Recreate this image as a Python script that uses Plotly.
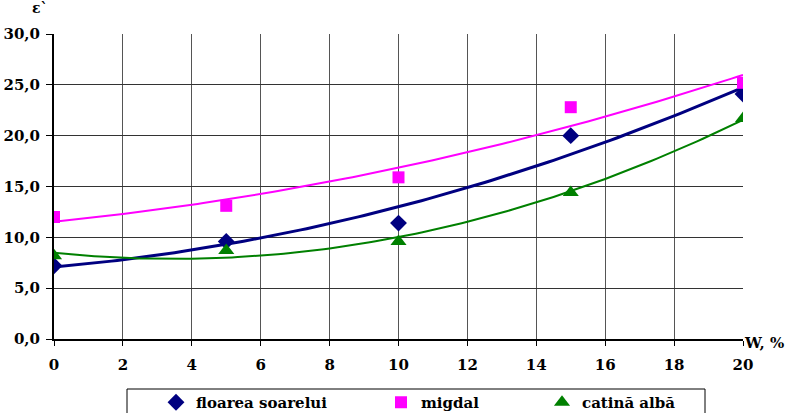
import numpy as np
import plotly.graph_objects as go

# ---- data ----
x_w = [0, 5, 10, 15, 20]
floarea_soarelui = [7.2, 9.6, 11.4, 20.0, 24.1]
migdal = [12.0, 13.1, 15.9, 22.8, 25.2]
catina_alba = [8.2, 8.7, 9.6, 14.4, 21.7]

series_names = ["floarea soarelui", "migdal", "catină albă"]
x_ticks = [0, 2, 4, 6, 8, 10, 12, 14, 16, 18, 20]
y_ticks = [0, 5, 10, 15, 20, 25, 30]
y_ticklabels = ["0,0", "5,0", "10,0", "15,0", "20,0", "25,0", "30,0"]

colors = ["#000080", "#FF00FF", "#008000"]
symbols = ["diamond", "square", "triangle-up"]
sizes = [13, 12, 14]
line_widths = [3, 2, 2]

FONT = "DejaVu Serif"

fig = go.Figure()
xs = np.linspace(0, 20, 121)
for i, ys in enumerate([floarea_soarelui, migdal, catina_alba]):
    coef = np.polyfit(x_w, ys, 2)
    fig.add_trace(go.Scatter(x=xs, y=np.polyval(coef, xs), mode="lines",
                             line=dict(color=colors[i], width=line_widths[i]),
                             showlegend=False, hoverinfo="skip"))
legend_ids = ["legend", "legend2", "legend3"]
for i, ys in enumerate([floarea_soarelui, migdal, catina_alba]):
    fig.add_trace(go.Scatter(x=x_w, y=ys, mode="markers", name=series_names[i],
                             marker=dict(symbol=symbols[i], size=sizes[i], color=colors[i]),
                             legend=legend_ids[i]))

W, H = 811, 413
ml, mr, mt, mb = 54, 68, 34, 74
PW, PH = W - ml - mr, H - mt - mb

def px_x(p):
    return (p - ml) / PW

def px_y(p):
    return (H - mb - p) / PH

def leg(xpx):
    return dict(x=px_x(xpx), xanchor="left", y=px_y(386), yanchor="top",
                yref="paper", bgcolor="rgba(0,0,0,0)", borderwidth=0,
                font=dict(family=FONT, size=15, color="black", weight="bold"),
                itemsizing="trace", tracegroupgap=0)

tick_font = dict(family=FONT, size=15, color="black", weight="bold")

fig.update_layout(
    width=W, height=H,
    margin=dict(l=ml, r=mr, t=mt, b=mb, autoexpand=False),
    paper_bgcolor="white", plot_bgcolor="white",
    separators=",.",
    font=dict(family=FONT, size=15, color="black"),
    xaxis=dict(range=[0, 20], tickvals=x_ticks, showgrid=True, gridcolor="#555555",
               gridwidth=1, showline=True, linecolor="black", linewidth=2,
               ticks="outside", ticklen=5, tickcolor="black", zeroline=False,
               ticklabelstandoff=6, automargin=False, tickfont=tick_font),
    yaxis=dict(range=[0, 30], tickvals=y_ticks, ticktext=y_ticklabels, showgrid=True,
               gridcolor="#333333", gridwidth=1, showline=True, linecolor="black",
               linewidth=2, ticks="outside", ticklen=6, tickcolor="black", zeroline=False,
               ticklabelstandoff=3, automargin=False, tickfont=tick_font),
    legend=leg(156), legend2=leg(381), legend3=leg(542),
    shapes=[dict(type="rect", xref="paper", yref="paper",
                 x0=px_x(127), x1=px_x(705), y0=px_y(420), y1=px_y(389),
                 line=dict(color="black", width=1))],
    annotations=[
        dict(text="ε`", x=px_x(40), y=px_y(8), xref="paper", yref="paper",
             xanchor="center", yanchor="middle", showarrow=False,
             font=dict(family=FONT, size=14, weight="bold")),
        dict(text="W, %", x=px_x(786), y=px_y(354), xref="paper", yref="paper",
             showarrow=False, font=dict(family=FONT, size=15, weight="bold")),
    ],
)
fig.write_html("out.html", config={"displayModeBar": False},
               post_script="document.body.style.margin='0';")
